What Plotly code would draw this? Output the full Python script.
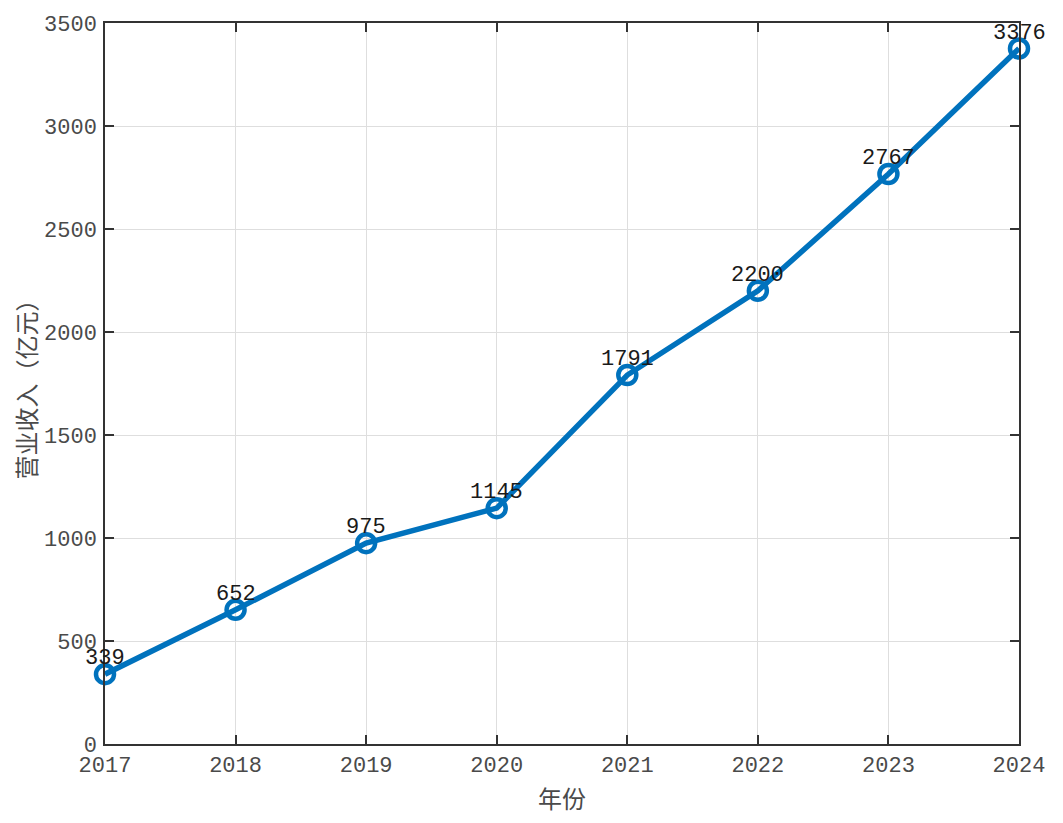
import plotly.graph_objects as go

# 数据
anios = [2017, 2018, 2019, 2020, 2021, 2022, 2023, 2024]
ingresos = [339, 652, 975, 1145, 1791, 2200, 2767, 3376]

y_ticks = [0, 500, 1000, 1500, 2000, 2500, 3000, 3500]

color_linea = "#0072BD"
fuente_mono = "Liberation Mono, Courier New, monospace"
fuente_cjk = "Noto Sans CJK SC"

fig = go.Figure()

fig.add_trace(go.Scatter(
    x=anios,
    y=ingresos,
    mode="lines+markers",
    line=dict(color=color_linea, width=5.5),
    marker=dict(symbol="circle-open", size=18, color=color_linea, line=dict(width=4.5)),
    cliponaxis=False,
    showlegend=False,
))

# etiquetas de valor encima de cada punto
for x, y in zip(anios, ingresos):
    fig.add_annotation(
        x=x, y=y, text=str(y), showarrow=False,
        yanchor="bottom", xanchor="center", yshift=1,
        font=dict(family=fuente_mono, size=22, color="#1a1a1a"),
    )

eje = dict(
    showline=True, linecolor="#333333", linewidth=1.5, mirror="ticks",
    ticks="inside", ticklen=9, tickwidth=1.5, tickcolor="#333333",
    showgrid=True, gridcolor="#dedede", gridwidth=1, zeroline=False,
    tickfont=dict(family=fuente_mono, size=22, color="#4a4a4a"),
    automargin=False,
)

fig.update_layout(
    width=1063, height=823,
    margin=dict(l=97, r=52, t=15, b=87),
    plot_bgcolor="white", paper_bgcolor="white",
    xaxis=dict(
        eje, range=[2017, 2024], tickvals=anios, ticktext=[str(a) for a in anios],
        title=dict(text="年份", font=dict(family=fuente_cjk, size=24, color="#4a4a4a"), standoff=13),
    ),
    yaxis=dict(
        eje, range=[0, 3500], tickvals=y_ticks, ticklabelstandoff=2,
        title=dict(text="营业收入（亿元）", font=dict(family=fuente_cjk, size=24, color="#4a4a4a"), standoff=8),
    ),
)

fig.write_html("out.html")
